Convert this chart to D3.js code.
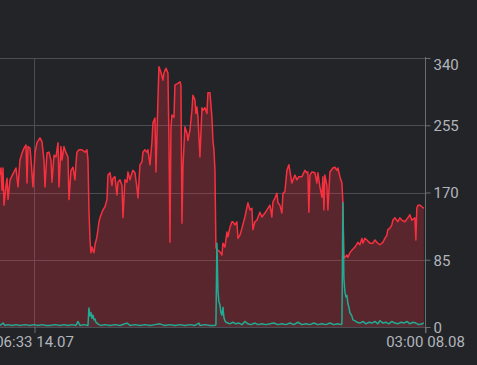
<!DOCTYPE html>
<html><head><meta charset="utf-8">
<script src="https://cdn.jsdelivr.net/npm/d3@7"></script>
<style>html,body{margin:0;padding:0;background:#222428;overflow:hidden}svg{display:block}</style>
</head><body><svg id="c" width="477" height="365"></svg>
<script>
// ---- data ----
const startTime = new Date(2023, 6, 12, 2, 39);
const tickTimes = [new Date(2023, 6, 14, 6, 33), new Date(2023, 7, 8, 3, 0)];
const yTicks = [0, 85, 170, 255, 340];

// hours since startTime
const redHours = [
 0,1.5,3.1,4.6,6.1,9.2,10.7,12.2,15.3,18.3,
 21.4,24.4,27.5,30.5,33.6,36.6,39.7,41.2,42.7,45.8,
 47.3,50.3,53.4,56.4,61,64.1,67.1,68.6,71.7,74.7,
 77.8,79.3,82.4,85.4,88.5,90,93,94.6,97.6,100.7,
 103.7,105.2,108.3,111.3,114.4,115.9,117.4,120.5,125.1,129.6,
 132.7,134.2,135.7,137.3,138.8,140.3,141.8,143.4,144.9,147.9,
 151,152.5,155.6,157.1,160.1,163.2,164.7,167.8,170.8,172.3,
 175.4,178.4,180,183,186.1,187.6,190.6,193.7,195.2,198.3,
 201.3,202.8,205.9,208.9,210.5,213.5,216.6,218.1,221.1,224.2,
 225.7,228.8,231.8,233.3,236.4,237.9,241,242.5,245.5,248.6,
 250.1,253.2,256.2,257.7,259.3,260.8,262.3,265.4,266.9,271.5,
 274.5,276,277.6,279.1,282.1,285.2,286.7,289.8,292.8,294.3,
 297.4,298.9,300.4,302,305,308.1,309.6,312.6,315.7,317.2,
 320.3,323.3,324.8,326.4,327.9,329.4,332.5,335.5,338.6,340.1,
 343.1,346.2,347.7,350.8,353.8,355.3,358.4,361.4,363,366,
 369.1,373.6,378.2,381.3,384.3,385.8,388.9,391.9,396.5,399.6,
 404.1,408.7,411.8,414.8,416.3,419.4,422.4,424,427,430.1,
 431.6,434.6,437.7,440.7,445.3,449.9,452.9,456,460.6,465.1,
 468.2,469.7,471.2,472.8,475.8,480.4,483.4,485,488,491.1,
 492.6,494.1,495.6,498.7,500.2,503.3,507.8,510.9,513.9,515.5,
 518.5,521.6,523.1,524.6,529.2,530.7,533.8,536.8,541.4,546,
 549,552.1,553.6,556.6,559.7,564.3,568.8,571.9,574.9,579.5,
 584.1,587.1,590.2,591.7,594.8,597.8,599.3,602.4,607,610,
 613.1,617.6,622.2,625.3,628.3,632.9,634.4,635.9,637.5,640.5,
 643.6,646.6
];
const redValues = [
 192,201,173,201,154,179,188,161,186,191,
 196,201,177,211,220,226,230,182,228,226,
 211,177,220,233,239,234,211,177,220,221,
 211,183,217,215,233,177,228,211,228,220,
 215,161,198,202,186,207,221,224,224,221,
 224,211,148,110,94,101,97,94,104,114,
 133,138,145,148,152,161,192,195,179,188,
 190,167,183,186,179,138,186,183,196,186,
 195,198,195,176,163,205,209,221,224,221,
 224,205,234,258,264,196,289,329,322,312,
 321,327,321,239,107,252,268,265,306,308,
 310,306,131,202,253,245,236,249,274,293,
 287,270,278,265,215,277,274,277,270,296,
 296,265,236,224,198,100,97,95,91,106,
 101,120,114,126,133,133,129,133,112,116,
 125,139,157,148,150,123,133,135,145,139,
 144,150,154,139,158,163,169,157,154,144,
 169,171,198,205,182,192,186,190,190,198,
 195,196,145,192,196,195,182,195,177,164,
 190,148,192,179,148,196,201,202,198,201,
 190,182,157,87,91,88,94,97,101,107,
 104,112,106,112,110,106,106,110,107,104,
 107,112,116,123,125,129,135,138,133,138,
 135,133,138,142,135,138,110,150,154,154,
 152,150
];
const tealHours = [
 0,4.6,7.6,12.2,18.3,24.4,30.5,38.1,45.8,51.9,
 58,64.1,70.2,76.3,83.9,91.5,97.6,103.7,109.8,115.9,
 119,122,128.1,134.2,135.7,137.3,138.8,140.3,141.8,143.4,
 144.9,146.4,147.9,151,154,160.1,167.8,175.4,183,190.6,
 193.7,198.3,205.9,213.5,221.1,228.8,236.4,244,247.1,251.6,
 259.3,266.9,274.5,282.1,289.8,297.4,303.5,305,312.6,320.3,
 327.9,329.4,330.9,332.5,334,335.5,337,338.6,340.1,341.6,
 343.1,344.7,347.7,350.8,355.3,359.9,364.5,369.1,373.6,378.2,
 382.8,388.9,393.5,399.6,405.7,411.8,417.9,424,430.1,436.2,
 442.3,448.4,454.5,460.6,466.7,472.8,478.9,485,491.1,497.2,
 503.3,509.4,515.5,520,521.6,523.1,524.6,526.1,527.7,529.2,
 530.7,532.2,533.8,536.8,538.3,541.4,544.4,549,553.6,558.2,
 562.7,567.3,571.9,576.5,579.5,584.1,588.7,593.2,597.8,602.4,
 607,611.5,616.1,620.7,625.3,629.8,634.4,639,643.6,646.6
];
const tealValues = [
 2,5,2,3,2,3,2,3,2,3,
 2,3,2,2,3,2,3,2,3,2,
 7,2,3,2,24,14,18,11,15,9,
 10,6,5,3,2,3,2,3,2,4,
 5,2,3,2,3,2,3,4,3,2,
 3,2,3,2,3,2,5,2,3,2,
 2,3,106,45,32,28,18,15,25,12,
 8,6,5,4,6,4,5,3,7,4,
 3,5,3,4,3,4,5,3,4,3,
 5,3,6,3,4,3,5,3,4,3,
 5,3,4,3,4,157,62,45,38,40,
 30,25,18,14,9,8,6,5,7,4,
 6,5,7,4,8,5,6,4,7,5,
 4,6,5,7,4,6,5,3,4,5
];

// ---- drawing ----
const W = 477, H = 365;
const plot = {left: 0, right: 425, top: 58, bottom: 327};
const bg = "#222428", gridColor = "#4b4e54", textColor = "#b2b5bc";
const redColor = "#f7303f", tealColor = "#22ab94";
const font = "Roboto, 'Noto Sans', sans-serif";

const toDate = h => new Date(startTime.getTime() + h * 3600e3);
const red = redHours.map((h, i) => ({t: toDate(h), v: redValues[i]}));
const teal = tealHours.map((h, i) => ({t: toDate(h), v: tealValues[i]}));

const x = d3.scaleTime().domain([startTime, tickTimes[1]]).range([plot.left, plot.right]);
const y = d3.scaleLinear().domain([0, 340]).range([plot.bottom, plot.top]);

const svg = d3.select("#c");
svg.append("rect").attr("width", W).attr("height", H).attr("fill", bg);

// grid
const grid = svg.append("g");
grid.selectAll("line.h").data(yTicks).join("line")
  .attr("x1", plot.left).attr("x2", plot.right)
  .attr("y1", d => Math.round(y(d)) + 0.5).attr("y2", d => Math.round(y(d)) + 0.5)
  .attr("stroke", gridColor).attr("stroke-width", 1);
grid.selectAll("line.v").data([tickTimes[0]]).join("line")
  .attr("x1", d => Math.round(x(d)) + 0.5).attr("x2", d => Math.round(x(d)) + 0.5)
  .attr("y1", plot.top).attr("y2", plot.bottom)
  .attr("stroke", gridColor).attr("stroke-width", 1);

// series
const areaGen = d3.area().x(d => x(d.t)).y0(y(0)).y1(d => y(d.v));
const lineGen = d3.line().x(d => x(d.t)).y(d => y(d.v));

svg.append("path").datum(red).attr("d", areaGen)
  .attr("fill", redColor).attr("fill-opacity", 0.26);
svg.append("path").datum(teal).attr("d", areaGen)
  .attr("fill", tealColor).attr("fill-opacity", 0.05);
svg.append("path").datum(red).attr("d", lineGen)
  .attr("fill", "none").attr("stroke", redColor).attr("stroke-width", 1.5)
  .attr("stroke-linejoin", "round");
svg.append("path").datum(teal).attr("d", lineGen)
  .attr("fill", "none").attr("stroke", tealColor).attr("stroke-width", 1.5)
  .attr("stroke-linejoin", "round");

// right axis
const yAxis = d3.axisRight(y).tickValues(yTicks).tickSize(5).tickPadding(3);
const ya = svg.append("g").attr("transform", `translate(${plot.right + 0.5},0)`).call(yAxis);
ya.select(".domain").remove();
ya.selectAll(".tick line").attr("stroke", "#6a6d72");
ya.selectAll(".tick text").attr("fill", textColor).attr("font-size", 15)
  .attr("font-family", font)
  .attr("dy", d => d === 340 ? "0.75em" : "0.35em");
svg.append("line").attr("x1", plot.right + 0.5).attr("x2", plot.right + 0.5)
  .attr("y1", plot.top - 1).attr("y2", plot.bottom + 6)
  .attr("stroke", "#6a6d72").attr("stroke-width", 1);

// bottom axis
const xAxis = d3.axisBottom(x).tickValues(tickTimes)
  .tickFormat(d3.timeFormat("%H:%M %d.%m")).tickSize(6).tickPadding(3);
const xa = svg.append("g").attr("transform", `translate(0,${plot.bottom})`).call(xAxis);
xa.select(".domain").remove();
xa.selectAll(".tick line").attr("stroke", "#6a6d72").attr("transform", "translate(0.5,0)");
xa.selectAll(".tick text").attr("fill", textColor).attr("font-size", 15)
  .attr("font-family", font).attr("dy", "0.71em");
</script>
</body></html>
